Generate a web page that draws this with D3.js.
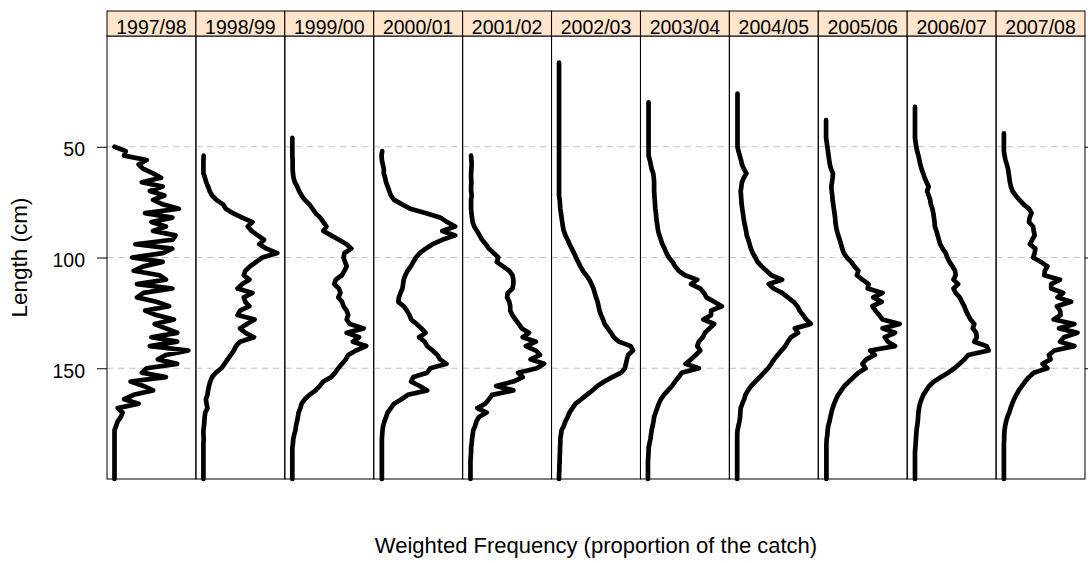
<!DOCTYPE html>
<html>
<head>
<meta charset="utf-8">
<script src="https://cdn.jsdelivr.net/npm/d3@7"></script>
<style>
  html, body { margin: 0; padding: 0; background: #ffffff; }
  svg { display: block; }
  text { font-family: "Liberation Sans", Arial, Helvetica, sans-serif; fill: #000; }
</style>
</head>
<body>
<svg id="chart" width="1088" height="563"></svg>
<script>
// ---------------- DATA ----------------
// Fishing seasons (panels)
const seasons = ["1997/98", "1998/99", "1999/00", "2000/01", "2001/02", "2002/03",
                 "2003/04", "2004/05", "2005/06", "2006/07", "2007/08"];

// First length class (cm) of each season; lengths go up in 2 cm steps to 200 cm
const lengthStart = [50, 54, 46, 52, 54, 12, 30, 26, 38, 32, 44];
const lengthStep = 2;

// Y axis tick labels (cm)
const lengthTicks = [50, 100, 150];

// Weighted frequency (relative units, per-season free scale)
const wf_1997_98 = [0,35,30,100,75,90,120,145,85,150,
  110,155,120,150,200,95,180,115,160,120,
  190,180,65,180,150,55,150,90,60,140,
  160,70,180,90,70,130,170,95,130,185,
  125,160,195,115,195,110,230,160,135,195,
  100,85,160,50,90,120,60,30,75,10,
  25,20,10,5,0,0,0,0,0,0,
  0,0,0,0,0,0];
const wf_1998_99 = [1,0,0,0,0,5,9,15,20,28,
  42,63,72,95,125,158,143,155,175,195,
  180,203,238,190,170,150,135,130,148,125,
  110,158,130,135,148,118,110,165,140,118,
  135,163,118,105,98,88,78,68,58,40,
  28,22,18,15,13,8,10,13,6,4,
  3,2,0,0,1,0,0,0,0,0,
  0,0,0,0];
const wf_1999_00 = [0,0,0,0,0,1,1,1,2,4,
  8,16,22,30,40,55,65,75,90,100,
  110,100,125,150,175,190,168,165,170,175,
  168,160,140,135,150,155,148,160,165,175,
  180,175,185,230,175,215,195,238,205,180,
  172,160,148,138,125,100,88,75,55,40,
  30,26,20,18,15,12,10,6,3,2,
  0,0,0,0,0,0,0,0];
const wf_2000_01 = [3,1,2,5,8,8,12,15,20,25,
  30,40,65,90,140,185,205,230,190,230,
  190,160,138,120,108,100,92,82,75,70,
  68,66,60,55,53,70,80,88,93,110,
  125,138,118,135,143,160,175,183,203,153,
  143,100,93,120,143,83,63,40,30,20,
  15,10,6,4,3,2,2,2,2,2,
  2,2,2,2,2];
const wf_2001_02 = [3,4,5,4,3,3,4,3,3,5,
  3,3,3,4,6,8,13,22,30,38,
  50,60,75,90,85,105,125,135,138,138,
  135,120,118,125,128,128,135,145,155,165,
  188,168,210,178,210,223,193,236,213,153,
  168,138,83,138,70,60,48,23,53,28,
  20,16,10,8,6,5,3,3,2,1,
  1,1,1,1];
const wf_2002_03 = [0,0,0,0,0,0,0,0,0,0,
  0,0,0,0,0,0,0,0,0,0,
  0,0,0,0,0,0,0,0,0,0,0,
  2,3,4,6,8,10,12,15,20,27,
  33,40,47,53,60,67,75,85,95,102,
  108,112,116,121,124,127,132,138,143,153,
  163,172,188,225,232,217,213,210,207,195,
  167,142,120,105,87,70,52,42,33,27,
  20,15,8,6,4,4,3,3,2,2,
  1,1,0,0];
const wf_2003_04 = [2,2,2,2,2,2,2,2,2,2,2,2,
  2,6,9,12,17,19,20,20,20,21,
  22,23,24,26,27,29,31,33,37,42,
  47,54,60,68,80,88,100,120,160,140,
  170,182,190,215,240,205,205,180,215,200,
  185,178,165,160,170,155,140,122,165,110,
  100,88,78,65,52,42,35,30,25,20,
  18,15,12,10,8,5,2,2,1,0,
  0,0,0,0];
const wf_2004_05 = [2,2,2,2,2,2,2,2,2,2,2,2,
  2,5,9,13,16,22,30,22,16,14,
  12,13,14,15,17,19,21,23,26,29,
  31,36,40,44,50,58,65,78,93,108,
  142,100,115,142,160,178,190,197,208,218,
  232,182,192,170,160,152,140,128,117,108,
  98,85,72,58,45,35,27,23,17,12,
  11,10,8,5,2,1,1,1,1,1,
  1,1,1,1,1,1];
const wf_2005_06 = [1,1,1,1,1,
  3,5,7,9,11,13,17,23,22,20,
  18,19,21,22,24,26,28,30,31,33,
  36,40,45,49,53,58,68,82,92,105,
  100,118,138,135,183,153,180,150,160,172,
  183,238,183,223,190,200,223,143,158,130,
  118,128,105,90,75,60,50,40,33,27,
  22,18,15,12,8,6,5,3,2,2,
  2,2,2,2,2,2,2];
const wf_2006_07 = [1,1,1,1,1,1,1,1,
  3,5,8,12,15,18,22,27,32,38,
  45,40,45,50,52,57,60,62,64,65,
  70,74,78,82,90,100,105,112,122,130,
  132,125,140,125,132,145,152,160,165,172,
  180,192,187,198,200,192,232,238,172,160,
  145,128,108,85,62,47,37,28,22,17,
  14,12,11,10,8,6,5,4,3,2,
  1,1,1,1,1,1,1];
const wf_2007_08 = [1,1,1,1,1,
  3,6,10,14,16,18,20,23,28,38,
  50,63,80,88,82,80,93,95,98,90,
  83,100,98,93,118,138,130,128,178,150,
  150,188,170,213,168,178,180,158,223,175,
  233,190,178,223,160,143,148,123,138,95,
  80,68,58,48,40,33,27,22,18,12,
  8,5,3,2,2,1,1,1,1,1,
  1,1,1,1];

const seriesValues = [wf_1997_98, wf_1998_99, wf_1999_00, wf_2000_01, wf_2001_02, wf_2002_03,
                      wf_2003_04, wf_2004_05, wf_2005_06, wf_2006_07, wf_2007_08];

// ---------------- LAYOUT ----------------
const svg = d3.select("#chart");
const plotLeft = 107, plotRight = 1085;
const stripTop = 11, panelTop = 36, panelBottom = 479;
const nPanels = seasons.length;
const panelW = (plotRight - plotLeft) / nPanels;
const xPad = 7.5;

const band = d3.scaleBand().domain(seasons).range([plotLeft, plotRight]).paddingInner(0).paddingOuter(0);
const y = d3.scaleLinear().domain([0, 200]).range([panelTop, panelBottom]);

seasons.forEach((s, i) => {
  const x0 = band(s);
  const vals = seriesValues[i];
  const data = vals.map((v, k) => ({ len: lengthStart[i] + k * lengthStep, f: v }));
  const x = d3.scaleLinear().domain([0, d3.max(vals)]).range([x0 + xPad, x0 + panelW - xPad]);

  const g = svg.append("g");
  // gridlines
  g.selectAll("line.grid").data(lengthTicks).join("line")
    .attr("x1", x0).attr("x2", x0 + panelW)
    .attr("y1", d => y(d)).attr("y2", d => y(d))
    .attr("stroke", "#c4c4c4").attr("stroke-width", 1)
    .attr("stroke-dasharray", "6.5,4.5");

  // frequency line
  const line = d3.line().x(d => x(d.f)).y(d => y(d.len));
  g.append("path").datum(data)
    .attr("d", line)
    .attr("fill", "none").attr("stroke", "#000")
    .attr("stroke-width", 4.7)
    .attr("stroke-linejoin", "round").attr("stroke-linecap", "round");

  // panel border
  g.append("rect")
    .attr("x", x0).attr("y", panelTop).attr("width", panelW).attr("height", panelBottom - panelTop)
    .attr("fill", "none").attr("stroke", "#000").attr("stroke-width", 1);

  // strip
  g.append("rect")
    .attr("x", x0).attr("y", stripTop).attr("width", panelW).attr("height", panelTop - stripTop)
    .attr("fill", "#ffe5cc").attr("stroke", "#000").attr("stroke-width", 1);
  g.append("text")
    .attr("x", x0 + panelW / 2).attr("y", panelTop - 2)
    .attr("text-anchor", "middle")
    .attr("font-size", "19.5px")
    .text(s);
});

// Left y axis
const yAxisL = d3.axisLeft(y).tickValues(lengthTicks).tickSize(10).tickPadding(12);
const gyl = svg.append("g").attr("transform", `translate(${plotLeft},0)`).call(yAxisL);
gyl.select(".domain").remove();
gyl.selectAll(".tick line").attr("stroke", "#000");
gyl.selectAll(".tick text")
  .attr("font-size", "19.5px")
  .attr("font-family", '"Liberation Sans", Arial, sans-serif')
  .attr("fill", "#000")
  .attr("dy", "0.47em");

// Right ticks (no labels)
const yAxisR = d3.axisRight(y).tickValues(lengthTicks).tickSize(10).tickFormat("");
const gyr = svg.append("g").attr("transform", `translate(${plotRight},0)`).call(yAxisR);
gyr.select(".domain").remove();
gyr.selectAll(".tick line").attr("stroke", "#000");

// Axis titles
svg.append("text")
  .attr("transform", `translate(27, ${(panelTop + panelBottom) / 2}) rotate(-90)`)
  .attr("text-anchor", "middle")
  .attr("font-size", "22.5px")
  .text("Length (cm)");

svg.append("text")
  .attr("x", (plotLeft + plotRight) / 2).attr("y", 553)
  .attr("text-anchor", "middle")
  .attr("font-size", "22px")
  .text("Weighted Frequency (proportion of the catch)");
</script>
</body>
</html>
